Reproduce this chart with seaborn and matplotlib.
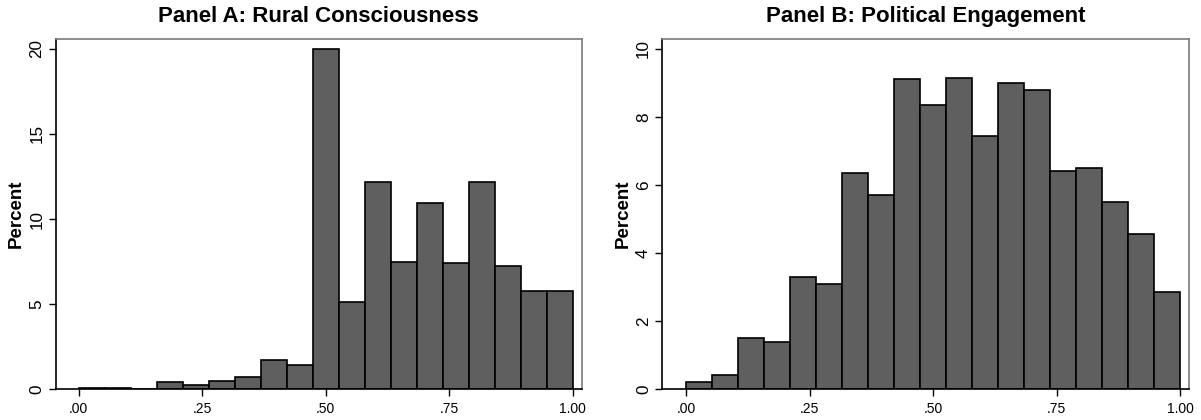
import numpy as np
import pandas as pd
import matplotlib
matplotlib.use("Agg")
import matplotlib.pyplot as plt
import seaborn as sns

# Bin edges: 19 equal bins from 0 to 1
n_bins = 19
rural_pct = [0.05, 0.05, 0.0, 0.4, 0.25, 0.5, 0.75, 1.75, 1.4, 20.0, 5.15,
             12.2, 7.5, 10.95, 7.4, 12.2, 7.25, 5.75, 5.8]
engage_pct = [0.2, 0.43, 1.5, 1.38, 3.3, 3.1, 6.35, 5.7, 9.1, 8.35, 9.15,
              7.45, 9.0, 8.8, 6.4, 6.5, 5.5, 4.55, 2.85]
x_ticks = [0.0, 0.25, 0.5, 0.75, 1.0]
x_labels = [".00", ".25", ".50", ".75", "1.00"]
yticks_a = [0, 5, 10, 15, 20]
yticks_b = [0, 2, 4, 6, 8, 10]
titles = ["Panel A: Rural Consciousness", "Panel B: Political Engagement"]

sns.set_style("white")
plt.rcParams['font.family'] = ['Liberation Sans', 'DejaVu Sans']
plt.rcParams['text.color'] = 'black'
plt.rcParams['axes.labelcolor'] = 'black'
plt.rcParams['xtick.color'] = 'black'
plt.rcParams['ytick.color'] = 'black'

edges = np.linspace(0, 1, n_bins + 1)
centers = (edges[:-1] + edges[1:]) / 2

fig = plt.figure(figsize=(12.01, 4.2), dpi=100)
ax_a = fig.add_axes([0.0464, 0.0731, 0.4382, 0.8338])
ax_b = fig.add_axes([0.5512, 0.0731, 0.4388, 0.8338])

panels = [
    (ax_a, rural_pct, yticks_a, (-0.0466, 1.0188), (0, 20.57)),
    (ax_b, engage_pct, yticks_b, (-0.0486, 1.018), (0, 10.285)),
]

for (ax, pct, yt, xl, yl), title in zip(panels, titles):
    df = pd.DataFrame({"x": centers, "pct": pct})
    sns.histplot(data=df, x="x", weights="pct", bins=n_bins, binrange=(0, 1),
                 stat="count", color="#5f5f5f", edgecolor="black",
                 linewidth=1.2, alpha=1, ax=ax)
    ax.set_xlim(*xl)
    ax.set_ylim(*yl)
    ax.set_xticks(x_ticks)
    ax.set_xticklabels(x_labels, fontsize=12.3)
    ax.set_yticks(yt)
    ax.set_yticklabels([str(v) for v in yt], fontsize=12.3, rotation=90, va="center")
    ax.set_xlabel("")
    ax.set_ylabel("Percent", fontsize=13.5, fontweight="bold")
    ax.yaxis.set_label_coords(-0.0583, 0.5)
    ax.set_title(title, fontsize=16, fontweight="bold", pad=12)
    ax.tick_params(axis="x", direction="out", length=5, width=1,
                   bottom=True, pad=4)
    ax.tick_params(axis="y", direction="out", length=5, width=1,
                   left=True, pad=3)
    for side in ["left", "bottom"]:
        ax.spines[side].set_color("black")
        ax.spines[side].set_linewidth(1.2)
    for side in ["top", "right"]:
        ax.spines[side].set_color("#7a7a7a")
        ax.spines[side].set_linewidth(1.2)
    ax.spines["bottom"].set_position(("data", 0))

fig.savefig("out.png", dpi=100)
